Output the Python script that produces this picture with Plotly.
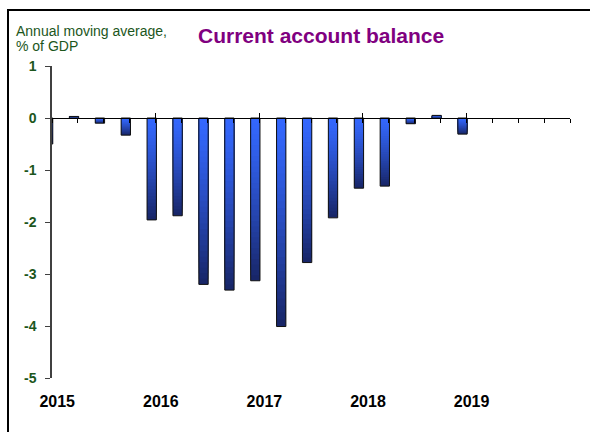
import plotly.graph_objects as go

# Quarterly current account balance, annual moving average (% of GDP)
quarters = [
    "2014Q4",
    "2015Q1", "2015Q2", "2015Q3", "2015Q4",
    "2016Q1", "2016Q2", "2016Q3", "2016Q4",
    "2017Q1", "2017Q2", "2017Q3", "2017Q4",
    "2018Q1", "2018Q2", "2018Q3", "2018Q4",
]
balance = [
    -0.50,
    0.03, -0.10, -0.33, -1.96,
    -1.88, -3.20, -3.31, -3.13,
    -4.01, -2.78, -1.92, -1.35,
    -1.31, -0.11, 0.05, -0.31,
]
years = ["2015", "2016", "2017", "2018", "2019"]
y_ticks = [1, 0, -1, -2, -3, -4, -5]
y_tick_text = ["1", "0", "-1", "-2", "-3", "-4", "-5"]

# figure geometry (pixels)
W, H = 590, 432
L, R, T, B = 52, 20, 66, 54
PW, PH = W - L - R, H - T - B


def px_x(p):
    return (p - L) / PW


def px_y(p):
    return (H - B - p) / PH


# quarter index on a 0..20 axis: each quarter's bar ends at its quarter-end tick
first_year = int(years[0])


def q_end(label):
    y, q = int(label[:4]), int(label[-1])
    return (y - first_year) * 4 + q


x_pos = [q_end(q) for q in quarters]

BAR_W = 0.36
BAR_OFF = -0.33

top_rgb = (52, 104, 255)
bot_rgb = (24, 38, 104)
N_LAYERS = 30

fig = go.Figure()

# vertical gradient: overlaid bars that shrink toward the zero line,
# bright near zero, dark at the bar's tip
for k in range(N_LAYERS):
    f = 1 - k / N_LAYERS
    s = f ** 1.3
    c = tuple(round(top_rgb[i] + (bot_rgb[i] - top_rgb[i]) * s) for i in range(3))
    fig.add_trace(go.Bar(
        x=x_pos, y=[v * f for v in balance],
        width=BAR_W, offset=BAR_OFF,
        marker=dict(color="rgb(%d,%d,%d)" % c, line=dict(width=0)),
        hoverinfo="skip", showlegend=False,
    ))

# bar outlines
fig.add_trace(go.Bar(
    x=x_pos, y=balance, width=BAR_W, offset=BAR_OFF,
    marker=dict(color="rgba(0,0,0,0)", line=dict(color="#111111", width=1)),
    customdata=quarters, hovertemplate="%{customdata}: %{y:.2f}<extra></extra>",
    showlegend=False,
))

# carrier traces so the zero-line axes are drawn
for ax in ("x2", "x3"):
    fig.add_trace(go.Scatter(
        x=[0], y=[0], xaxis=ax, yaxis="y", mode="markers",
        marker=dict(opacity=0), hoverinfo="skip", showlegend=False,
    ))

n_q = len(years) * 4
green = "#1c561c"
zero_pos = px_y(H - B - 5 * PH / 6)

fig.update_layout(
    width=W, height=H,
    margin=dict(l=L, r=R, t=T, b=B, pad=0),
    paper_bgcolor="white", plot_bgcolor="white",
    barmode="overlay",
    font=dict(family="Arial, Liberation Sans, sans-serif"),
    xaxis=dict(
        range=[0, n_q], showgrid=False, zeroline=False, showline=False,
        tickmode="array",
        tickvals=[i * 4 + 0.2 for i in range(len(years))],
        ticktext=years, ticks="", ticklabelstandoff=12,
        tickfont=dict(size=16, color="black", weight="bold"),
    ),
    # zero line with quarter ticks below it
    xaxis2=dict(
        range=[0, n_q], overlaying="x", anchor="free", position=zero_pos,
        showgrid=False, zeroline=False, showline=True, linecolor="black", linewidth=1,
        tickmode="linear", tick0=0, dtick=1, ticks="outside", ticklen=4,
        tickcolor="black", tickwidth=1, showticklabels=False,
    ),
    # year ticks crossing above the zero line
    xaxis3=dict(
        range=[0, n_q], overlaying="x", anchor="free", position=zero_pos,
        showgrid=False, zeroline=False, showline=False,
        tickmode="linear", tick0=0, dtick=4, ticks="inside", ticklen=5,
        tickcolor="black", tickwidth=1, showticklabels=False,
    ),
    yaxis=dict(
        range=[-5, 1], showgrid=False, zeroline=False,
        showline=True, linecolor="#404040", linewidth=1.5,
        tickmode="array", tickvals=y_ticks, ticktext=y_tick_text,
        ticks="outside", ticklen=5,
        tickcolor="#404040", tickwidth=1, ticklabelstandoff=6,
        tickfont=dict(size=14, color=green, weight="bold"),
    ),
    annotations=[
        dict(text="Current account balance", xref="paper", yref="paper",
             x=px_x(321), y=px_y(36), xanchor="center", yanchor="middle", showarrow=False,
             font=dict(size=21, color="#800080", weight="bold")),
        dict(text="Annual moving average,", xref="paper", yref="paper",
             x=px_x(14), y=px_y(31), xanchor="left", yanchor="middle", showarrow=False,
             font=dict(size=14, color=green)),
        dict(text="% of GDP", xref="paper", yref="paper",
             x=px_x(14), y=px_y(46), xanchor="left", yanchor="middle", showarrow=False,
             font=dict(size=14, color=green)),
    ],
    shapes=[
        dict(type="path", xref="paper", yref="paper",
             path="M %f %f L %f %f L %f %f" % (px_x(8), px_y(H + 10), px_x(8), px_y(10), px_x(W + 10), px_y(10)),
             line=dict(color="black", width=2)),
    ],
)

fig.write_html("out.html")
